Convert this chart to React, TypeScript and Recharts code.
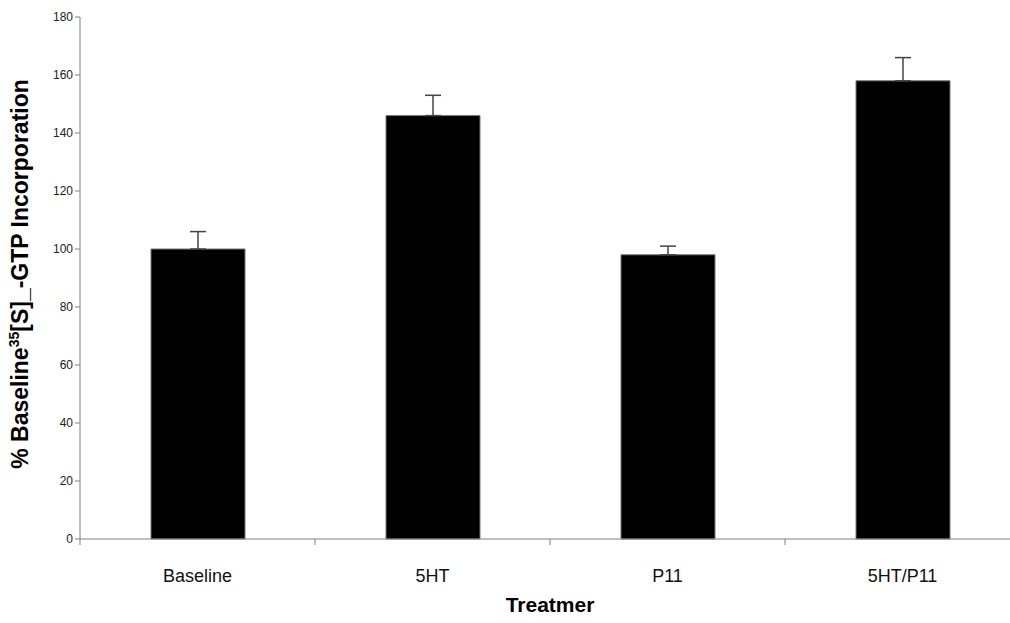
import React from "react";
import { Bar, BarChart, ErrorBar, XAxis, YAxis, Label } from "recharts";

const categories = ["Baseline", "5HT", "P11", "5HT/P11"];
const means = [100, 146, 98, 158];
const errors = [6, 7, 3, 8];
const yTicks = [0, 20, 40, 60, 80, 100, 120, 140, 160, 180];

// bars sit at the middle of each unit slot, tick marks at slot edges
const data = categories.map((name, i) => ({
  pos: i + 0.5,
  name,
  value: means[i],
  err: [0, errors[i]],
}));

const xTicks: number[] = [];
for (let i = 0; i <= categories.length; i++) {
  xTicks.push(i);
  if (i < categories.length) xTicks.push(i + 0.5);
}

const XTick = (props: any) => {
  const { x, y, payload } = props;
  const v = payload.value;
  if (Number.isInteger(v)) {
    return <line x1={x} x2={x} y1={y - 8} y2={y - 2} stroke="#808080" />;
  }
  return (
    <text
      x={x}
      y={y + 35}
      textAnchor="middle"
      fontFamily="Liberation Sans, Arial, sans-serif"
      fontSize={18}
      fill="#111"
    >
      {categories[Math.floor(v)]}
    </text>
  );
};

export default function App() {
  return (
    <div
      style={{
        position: "absolute",
        left: 0,
        top: 0,
        width: 1010,
        height: 623,
        overflow: "hidden",
        background: "#fff",
      }}
    >
      <BarChart
        width={1030}
        height={623}
        data={data}
        margin={{ top: 17, right: 10, bottom: 0, left: 0 }}
      >
        <XAxis
          dataKey="pos"
          type="number"
          domain={[0, categories.length]}
          ticks={xTicks}
          interval={0}
          tickLine={false}
          tick={<XTick />}
          stroke="#808080"
          height={84}
        >
          <Label
            value="Treatmer"
            position="insideBottom"
            offset={11}
            style={{
              fontFamily: "Liberation Sans, Arial, sans-serif",
              fontWeight: "bold",
              fontSize: 21,
              fill: "#000",
            }}
          />
        </XAxis>
        <YAxis
          domain={[0, 180]}
          ticks={yTicks}
          interval={0}
          width={80}
          stroke="#808080"
          tickSize={5}
          tick={{
            fontFamily: "Liberation Sans, Arial, sans-serif",
            fontSize: 12,
            fill: "#222",
          }}
        />
        <text
          transform="translate(28 274) rotate(-90)"
          textAnchor="middle"
          fontFamily="Liberation Sans, Arial, sans-serif"
          fontWeight="bold"
          fontSize={23}
          fill="#000"
        >
          % Baseline
          <tspan dy={-9} fontSize={14}>35</tspan>
          <tspan dy={9}>[S]_-GTP Incorporation</tspan>
        </text>
        <Bar
          dataKey="value"
          fill="#000"
          stroke="#777"
          strokeWidth={1}
          barSize={94}
          isAnimationActive={false}
        >
          <ErrorBar
            dataKey="err"
            width={8}
            stroke="#444"
            strokeWidth={1.5}
            isAnimationActive={false}
          />
        </Bar>
      </BarChart>
    </div>
  );
}
